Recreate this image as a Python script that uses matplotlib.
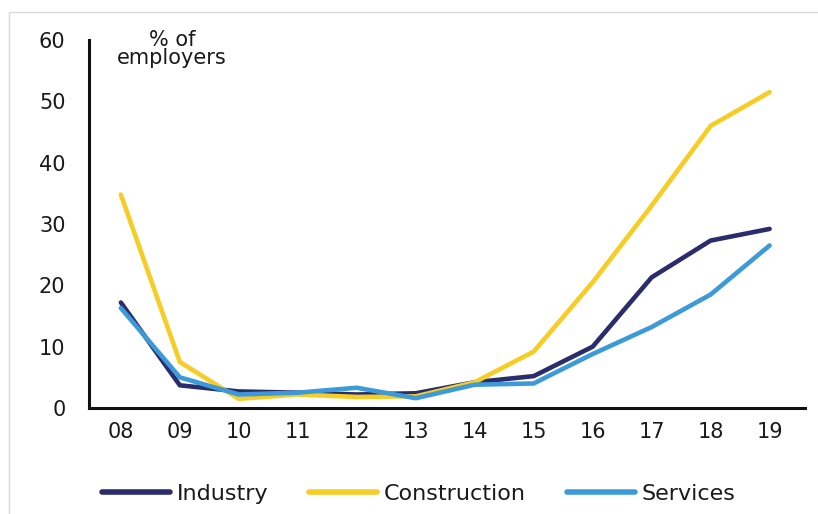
import matplotlib
matplotlib.use("Agg")
import matplotlib.pyplot as plt
from matplotlib.patches import Rectangle

plt.rcParams['font.family'] = ['DejaVu Sans']

years = ["08", "09", "10", "11", "12", "13", "14", "15", "16", "17", "18", "19"]
industry = [17.2, 3.7, 2.7, 2.5, 2.2, 2.4, 4.2, 5.2, 10.0, 21.3, 27.3, 29.2]
construction = [34.8, 7.5, 1.5, 2.2, 1.8, 1.9, 4.2, 9.2, 20.5, 33.0, 46.0, 51.5]
services = [16.3, 5.0, 2.2, 2.5, 3.3, 1.6, 3.8, 4.0, 8.8, 13.2, 18.5, 26.5]
series_names = ["Industry", "Construction", "Services"]
colors = ["#2a2c6b", "#f6cd24", "#3c9ad8"]

fig = plt.figure(figsize=(8.18, 5.14), dpi=100)
# faint frame
fig.patches.append(Rectangle((9/818, -0.02), 1.0, 1 - 12/514 + 0.02,
                             transform=fig.transFigure, fill=False,
                             edgecolor="#d9d9d9", linewidth=1.0))

ax = fig.add_axes([89/818, 1 - 408/514, (805 - 89)/818, (408 - 40)/514])
x = list(range(len(years)))
for vals, name, c in zip([industry, construction, services], series_names, colors):
    ax.plot(x, vals, color=c, linewidth=3.3, label=name, solid_capstyle='round',
            solid_joinstyle='round')

ax.set_ylim(0, 60)
ax.set_xlim(-0.54, 11.6)
ax.set_yticks([0, 10, 20, 30, 40, 50, 60])
ax.set_xticks(x)
ax.set_xticklabels(years)
ax.tick_params(axis='both', length=0, labelsize=15, colors="#1a1a1a")
ax.tick_params(axis='y', pad=17)
ax.tick_params(axis='x', pad=10)
for s in ["top", "right"]:
    ax.spines[s].set_visible(False)
for s in ["left", "bottom"]:
    ax.spines[s].set_linewidth(2.2)
    ax.spines[s].set_color("#111111")

fig.text(172/818, 1 - 30/514, "% of\nemployers", ha="center", va="top",
         fontsize=15, linespacing=0.9, color="#1a1a1a")

leg = fig.legend(loc="center", bbox_to_anchor=(0.512, 1 - 494/514), ncol=3,
                 frameon=False, fontsize=16, handlelength=3.06, columnspacing=1.85,
                 handletextpad=0.3)
for line in leg.get_lines():
    line.set_linewidth(4)
for t in leg.get_texts():
    t.set_color("#1a1a1a")

fig.savefig("out.png", dpi=100, facecolor="white")
